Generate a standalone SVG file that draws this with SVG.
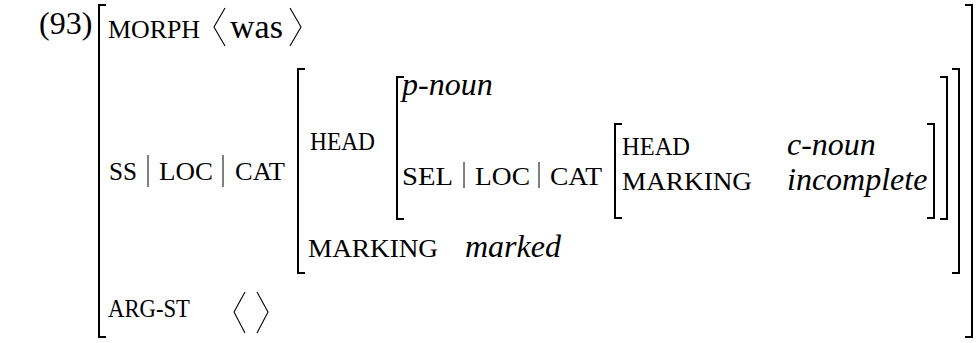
<svg xmlns="http://www.w3.org/2000/svg" width="980" height="343" viewBox="0 0 980 343">
<style>
text{font-family:'Liberation Serif','Times New Roman',serif;fill:#000}
.sc{font-size:26px}
.rm{font-size:32px}
.it{font-size:32px;font-style:italic}
.br{fill:none;stroke:#000;stroke-width:2}
.ang{fill:none;stroke:#000;stroke-width:1.1}
.bar{stroke:#000;stroke-width:1}
</style>
<rect width="980" height="343" fill="#fff"/>
<text class="rm" x="39" y="34">(93)</text>
<g id="brackets">
<path class="br" d="M106,5 H99 V337 H106"/>
<path class="br" d="M965,5 H972 V337 H965"/>
<path class="br" d="M305,69 H298 V273 H305"/>
<path class="br" d="M952,69 H959 V273 H952"/>
<path class="br" d="M404,77 H397 V219 H404"/>
<path class="br" d="M940,77 H947 V219 H940"/>
<path class="br" d="M622,124 H615 V218 H622"/>
<path class="br" d="M927,124 H934 V218 H927"/>
</g>
<g id="morph">
<text class="sc" x="108" y="38" textLength="92" lengthAdjust="spacingAndGlyphs">MORPH</text>
<polyline class="ang" points="225,8 214,27 225,46"/>
<text class="rm" x="230" y="38" style="font-size:34px">was</text>
<polyline class="ang" points="290,8 301,27 290,46"/>
</g>
<g id="sslc">
<text class="sc" x="109" y="180" textLength="28" lengthAdjust="spacingAndGlyphs">SS</text>
<line class="bar" x1="148" y1="155" x2="148" y2="187"/>
<text class="sc" x="159" y="180" textLength="54" lengthAdjust="spacingAndGlyphs">LOC</text>
<line class="bar" x1="223" y1="155" x2="223" y2="187"/>
<text class="sc" x="235" y="180" textLength="50" lengthAdjust="spacingAndGlyphs">CAT</text>
</g>
<g id="head">
<text class="sc" x="310" y="150" textLength="65" lengthAdjust="spacingAndGlyphs">HEAD</text>
<text class="it" x="402" y="95">p-noun</text>
<text class="sc" x="402" y="185" textLength="51" lengthAdjust="spacingAndGlyphs">SEL</text>
<line class="bar" x1="464" y1="162" x2="464" y2="188"/>
<text class="sc" x="475" y="185" textLength="55" lengthAdjust="spacingAndGlyphs">LOC</text>
<line class="bar" x1="539" y1="162" x2="539" y2="188"/>
<text class="sc" x="550" y="185" textLength="52" lengthAdjust="spacingAndGlyphs">CAT</text>
</g>
<g id="inner">
<text class="sc" x="622" y="155" textLength="68" lengthAdjust="spacingAndGlyphs">HEAD</text>
<text class="it" x="787" y="155">c-noun</text>
<text class="sc" x="622" y="190" textLength="130" lengthAdjust="spacingAndGlyphs">MARKING</text>
<text class="it" x="787" y="190">incomplete</text>
</g>
<g id="marking">
<text class="sc" x="308" y="257" textLength="130" lengthAdjust="spacingAndGlyphs">MARKING</text>
<text class="it" x="465" y="257">marked</text>
</g>
<g id="argst">
<text class="sc" x="108" y="317" textLength="82" lengthAdjust="spacingAndGlyphs">ARG-ST</text>
<polyline class="ang" points="245,292 234,312 245,333"/>
<polyline class="ang" points="257,292 268,312 257,333"/>
</g>
</svg>
